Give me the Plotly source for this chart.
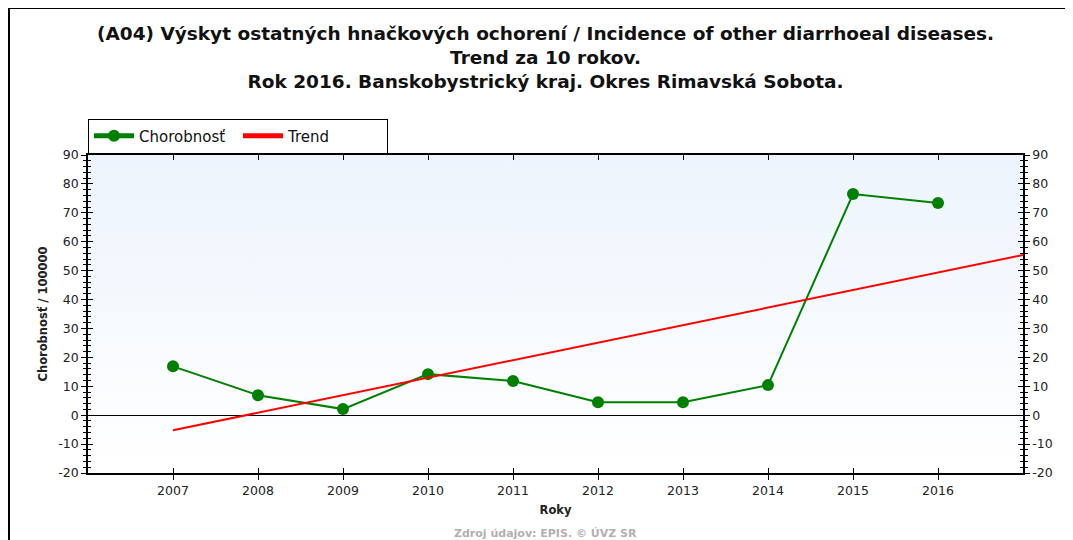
import base64
import plotly.graph_objects as go

# ---- data ----
years = [2007, 2008, 2009, 2010, 2011, 2012, 2013, 2014, 2015, 2016]
incidence = [16.9, 6.9, 2.1, 14.2, 11.8, 4.5, 4.5, 10.4, 76.5, 73.4]
trend_years = [2007, 2017]
trend_values = [-5.2, 55.4]
x_tick_labels = [str(y) for y in years]
y_tick_vals = [-20, -10, 0, 10, 20, 30, 40, 50, 60, 70, 80, 90]
y_tick_labels = [str(v) for v in y_tick_vals]

title_lines = [
    "(A04) Výskyt ostatných hnačkových ochorení / Incidence of other diarrhoeal diseases.",
    "Trend za 10 rokov.",
    "Rok 2016. Banskobystrický kraj. Okres Rimavská Sobota.",
]

# page has an 8px body margin; work in page pixels and convert
OFF = 8
W, H = 1073 - OFF, 540 - OFF
PL, PR, PT, PB = 88, 1023, 155, 473          # plot area in page pixels
L, R, T, B = PL - OFF, W - (PR - OFF), PT - OFF, H - (PB - OFF)
PW, PH = PR - PL, PB - PT


def px_x(p):
    return (p - PL) / PW


def px_y(p):
    return (PB - p) / PH


FONT = "DejaVu Sans, Verdana, sans-serif"

fig = go.Figure()
fig.add_trace(go.Scatter(
    x=years, y=incidence, name="Chorobnosť", mode="lines+markers",
    line=dict(color="#008000", width=2),
    marker=dict(color="#008000", size=12, symbol="circle"),
))
fig.add_trace(go.Scatter(
    x=trend_years, y=trend_values, name="Trend", mode="lines",
    line=dict(color="#FF0000", width=2),
))
# empty helper traces so the overlay axes exist
fig.add_trace(go.Scatter(x=[], y=[], xaxis="x2", yaxis="y2", showlegend=False, hoverinfo="skip"))
fig.add_trace(go.Scatter(x=[], y=[], xaxis="x", yaxis="y3", showlegend=False, hoverinfo="skip"))

yr = [-20, 90]
xr = [2006, 2017]
tickfont = dict(family=FONT, size=12.5, color="#222222")

svg = ("<svg xmlns='http://www.w3.org/2000/svg' width='10' height='100' preserveAspectRatio='none'>"
       "<defs><linearGradient id='g' x1='0' y1='0' x2='0' y2='1'>"
       "<stop offset='0' stop-color='#EDF4FD'/><stop offset='1' stop-color='#FFFFFF'/>"
       "</linearGradient></defs><rect width='10' height='100' fill='url(#g)'/></svg>")
svg_uri = "data:image/svg+xml;base64," + base64.b64encode(svg.encode()).decode()

fig.update_layout(
    width=W, height=H,
    margin=dict(l=L, r=R, t=T, b=B, pad=0),
    paper_bgcolor="white",
    plot_bgcolor="rgba(0,0,0,0)",
    font=dict(family=FONT, size=12, color="#222222"),
    showlegend=True,
    legend=dict(
        orientation="h", x=px_x(88), y=px_y(136), xanchor="left", yanchor="middle",
        bgcolor="white", bordercolor="black", borderwidth=1,
        font=dict(family=FONT, size=15, color="#111111"),
        entrywidth=94, entrywidthmode="pixels",
        itemwidth=40, itemsizing="constant",
    ),
    images=[dict(source=svg_uri, xref="paper", yref="paper", x=0, y=1,
                 sizex=1, sizey=1, sizing="stretch", layer="below",
                 xanchor="left", yanchor="top")],
    xaxis=dict(
        range=xr, tickvals=years, ticktext=x_tick_labels,
        ticks="outside", ticklen=5, tickcolor="black", tickwidth=1,
        showline=True, linecolor="black", linewidth=1.5, showgrid=False,
        zeroline=False, tickfont=tickfont,
        title=dict(text="<b>Roky</b>", font=dict(family=FONT, size=11.5, color="#222222"), standoff=9),
    ),
    xaxis2=dict(
        range=xr, tickvals=years, overlaying="x", matches="x",
        ticks="inside", ticklen=5, tickcolor="black", mirror="ticks",
        showline=True, linecolor="black", linewidth=1.5, showticklabels=False,
        showgrid=False, zeroline=False, anchor="y",
    ),
    yaxis=dict(
        range=yr, tickvals=y_tick_vals, ticktext=y_tick_labels,
        ticks="outside", ticklen=5, tickcolor="black", tickwidth=1,
        minor=dict(dtick=2, tick0=0, ticks="outside", ticklen=3, tickcolor="black", showgrid=False),
        showline=True, linecolor="black", linewidth=1.5, showgrid=False,
        zeroline=True, zerolinecolor="black", zerolinewidth=1,
        tickfont=tickfont,
        title=dict(text="<b>Chorobnosť / 100000</b>", font=dict(family=FONT, size=11.5, color="#222222"), standoff=8),
    ),
    yaxis2=dict(
        range=yr, tickvals=y_tick_vals, overlaying="y", anchor="x",
        ticks="inside", ticklen=5, tickcolor="black", mirror="ticks",
        minor=dict(dtick=2, tick0=0, ticks="inside", ticklen=3, tickcolor="black", showgrid=False),
        showline=True, linecolor="black", linewidth=1.5, showticklabels=False,
        showgrid=False, zeroline=False,
    ),
    yaxis3=dict(
        range=yr, tickvals=y_tick_vals, ticktext=y_tick_labels,
        overlaying="y", side="right", anchor="x",
        ticks="outside", ticklen=5, tickcolor="black",
        minor=dict(dtick=2, tick0=0, ticks="outside", ticklen=3, tickcolor="black", showgrid=False),
        showline=True, linecolor="black", linewidth=1.5, showgrid=False, zeroline=False,
        tickfont=tickfont,
    ),
    annotations=[
        dict(text="<b>" + "<br>".join(title_lines) + "</b>", xref="paper", yref="paper",
             x=px_x(545), y=px_y(58), xanchor="center", yanchor="middle", showarrow=False,
             font=dict(family=FONT, size=18.5, color="#111111"), align="center"),
        dict(text="<b>Zdroj údajov: EPIS. © ÚVZ SR</b>", xref="paper", yref="paper",
             x=px_x(545), y=px_y(533), xanchor="center", yanchor="middle", showarrow=False,
             font=dict(family=FONT, size=11, color="#B0B0B0")),
    ],
    shapes=[
        dict(type="rect", xref="paper", yref="paper",
             x0=px_x(9), x1=px_x(1100), y0=px_y(570), y1=px_y(8),
             line=dict(color="black", width=2), fillcolor="rgba(0,0,0,0)", layer="below"),
    ],
)

fig.write_html("out.html")
